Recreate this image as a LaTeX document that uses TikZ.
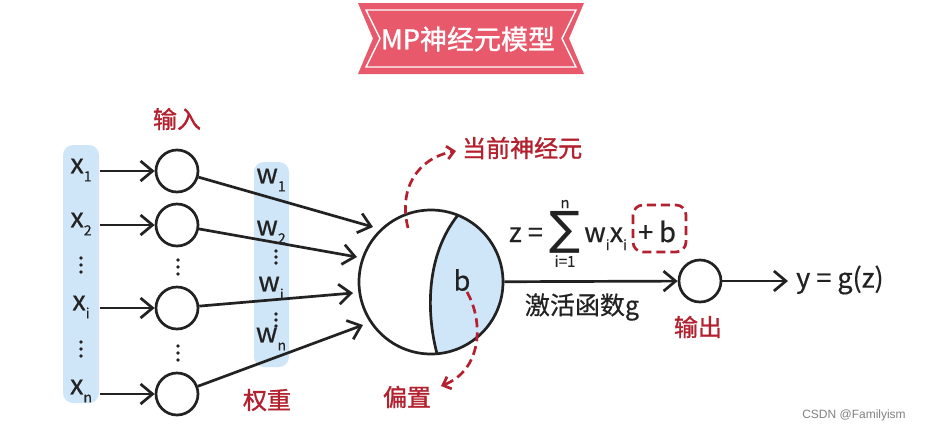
\documentclass[tikz,border=0pt]{standalone}
\usepackage{fontspec}
\setmainfont{Noto Sans CJK SC}
\newfontfamily\heavy[FakeBold=1.2]{Noto Sans CJK SC}
\newfontfamily\semi[FakeBold=0.5]{Noto Sans CJK SC}
\newfontfamily\djv{DejaVu Sans}
\newfontfamily\wmfont{Liberation Sans}
\usetikzlibrary{arrows.meta}
\definecolor{lblue}{HTML}{CFE5F8}
\definecolor{dred}{HTML}{B3202E}
\definecolor{bannerc}{HTML}{E85A6B}
\definecolor{ink}{HTML}{222222}
\newcommand\lsub[1]{\raisebox{-0.55ex}{\fontsize{14}{14}\selectfont #1}}
\newcommand\fsz[1]{\fontsize{#1}{#1}\selectfont}
\begin{document}
\begin{tikzpicture}[x=1pt,y=-1pt,
  neur/.style={circle, draw=ink, line width=2.7pt, minimum size=42pt, inner sep=0pt},
  arr/.style={draw=ink, line width=2.7pt, -{Straight Barb[length=12pt,width=20pt]}},
  redarr/.style={draw=dred, line width=2.7pt, dash pattern=on 9pt off 5pt, -{Straight Barb[length=7pt,width=13pt]}},
  lbl/.style={text=ink, font=\semi\fsz{27}, inner sep=0pt},
  redlbl/.style={text=dred, font=\heavy\fsz{24}, inner sep=0pt},
  dotn/.style={circle, fill=ink, minimum size=3.8pt, inner sep=0pt},
  column/.style={fill=lblue, rounded corners=10pt}]
\useasboundingbox (0,0) rectangle (930,432);
\fill[white] (0,0) rectangle (930,432);

% banner
\fill[bannerc] (358,3) -- (584,3) -- (569,38.5) -- (584,74) -- (358,74) -- (373,38.5) -- cycle;
\draw[white, line width=1.4pt] (366,10) -- (576,10) -- (562,38.5) -- (576,67) -- (366,67) -- (380,38.5) -- cycle;
\node[text=white, font=\heavy\fsz{27}, inner sep=0pt] (title) at (468,39) {MP神经元模型};

% columns
\fill[column] (63,145) rectangle (99,403);
\fill[column] (254,162) rectangle (289,367);

% x labels
\node[lbl] (x1) at (81,170) {x\lsub{1}};
\node[lbl] (x2) at (81,224) {x\lsub{2}};
\node[lbl] (xi) at (81,307) {x\lsub{i}};
\node[lbl] (xn) at (81,391) {x\lsub{n}};
\foreach \yy in {258,265,272} \node[dotn] at (81,\yy) {};
\foreach \yy in {342,349,356} \node[dotn] at (81,\yy) {};

% input neurons
\node[neur] (in1) at (177,171) {};
\node[neur] (in2) at (177,225) {};
\node[neur] (in3) at (177,308) {};
\node[neur] (in4) at (177,394) {};
\foreach \yy in {260,267,274} \node[dotn] at (178,\yy) {};
\foreach \yy in {346,353,360} \node[dotn] at (178,\yy) {};
\node[redlbl] (inlbl) at (177,119) {输入};

\coordinate (s1) at (100,171);
\coordinate (s2) at (100,225);
\coordinate (s3) at (100,308);
\coordinate (s4) at (100,394);
\draw[arr] (s1) -- (in1);
\draw[arr] (s2) -- (in2);
\draw[arr] (s3) -- (in3);
\draw[arr] (s4) -- (in4);

% w labels
\node[lbl] (w1) at (271,180) {w\lsub{1}};
\node[lbl] (w2) at (271,232) {w\lsub{2}};
\node[lbl] (wi) at (271,288) {w\lsub{i}};
\node[lbl] (wn) at (271,339) {w\lsub{n}};
\foreach \yy in {251,257,263} \node[dotn] at (276,\yy) {};
\foreach \yy in {314,320,326} \node[dotn] at (276,\yy) {};
\node[redlbl] (wlbl) at (267,400) {权重};

% main neuron
\coordinate (nc) at (431,282);
\fill[lblue] (458,215) arc[start angle=-68, end angle=85, radius=72] .. controls (426,312) and (426,255) .. (458,215);
\draw[ink, line width=2.7pt] (437,353.7) .. controls (426,312) and (426,255) .. (458,215);
\node[circle, draw=ink, line width=2.7pt, minimum size=144pt, inner sep=0pt] (neuron) at (nc) {};
\node[lbl] (blbl) at (462,280) {b};

\coordinate (e1) at (373,227);
\coordinate (e2) at (357,257);
\coordinate (e3) at (353,293);
\coordinate (e4) at (363,325);
\draw[arr] (in1) -- (e1);
\draw[arr] (in2) -- (e2);
\draw[arr] (in3) -- (e3);
\draw[arr] (in4) -- (e4);

% red annotations
\coordinate (ca) at (408,228);
\coordinate (cb) at (456,151);
\draw[redarr] (ca) .. controls (398,188) and (418,158) .. (cb);
\node[redlbl, anchor=west] (cur) at (462,148) {当前神经元};
\coordinate (ba) at (467,292);
\coordinate (bb) at (441,386);
\draw[redarr] (ba) .. controls (484,322) and (482,370) .. (bb);
\node[redlbl] (bias) at (407,397) {偏置};

% output
\node[neur] (outn) at (700,281) {};
\draw[arr] (neuron) -- (outn);
\coordinate (yend) at (788,281);
\draw[arr] (outn) -- (yend);
\node[lbl, anchor=west] (ylbl) at (796,280) {y = g(z)};
\node[lbl, font=\semi\fsz{25}] (act) at (582,307) {激活函数g};
\node[redlbl] (outlbl) at (698,327) {输出};

% formula
\node[lbl, anchor=base east] (zeq) at (543,242) {z =};
\node[text=ink, font=\djv\fsz{46}, inner sep=0pt] (sig) at (565,232) {∑};
\node[text=ink, font=\semi\fsz{15}, inner sep=0pt] (supn) at (565,204) {n};
\node[text=ink, font=\semi\fsz{15}, inner sep=0pt] (subi) at (565,261) {i=1};
\node[lbl, anchor=base west] (wx) at (584,242) {w\lsub{i}x\lsub{i}};
\node[lbl, anchor=base west] (pb) at (638,242) {+ b};
\draw[dred, line width=2.7pt, dash pattern=on 9pt off 5pt, rounded corners=10pt] (633,205) rectangle (686,252);

% watermark
\node[text=gray, font=\wmfont\fsz{12}, inner sep=0pt] (wm) at (854,415) {CSDN @Familyism};
\end{tikzpicture}
\end{document}
